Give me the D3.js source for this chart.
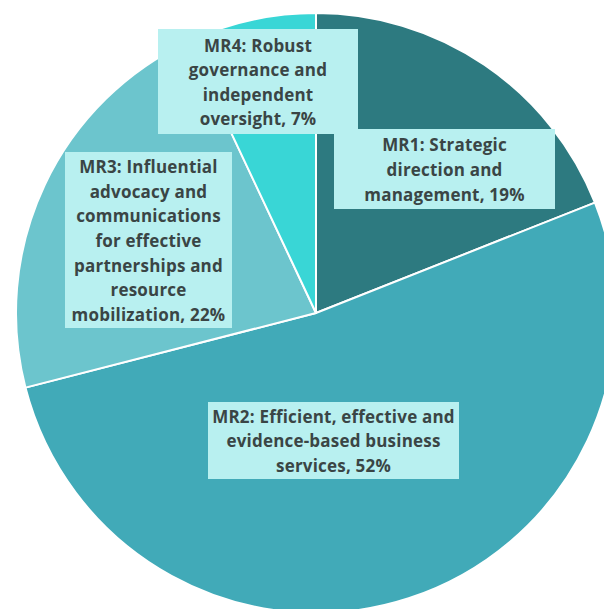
<!DOCTYPE html>
<html>
<head>
<meta charset="utf-8">
<script src="https://cdn.jsdelivr.net/npm/d3@7"></script>
<style>
  html, body { margin: 0; padding: 0; background: #ffffff; }
  svg { display: block; }
</style>
</head>
<body>
<svg id="chart" width="604" height="609"></svg>
<script>
// Budget share by management result
const categories = ["MR1", "MR2", "MR3", "MR4"];
const shares = [19, 52, 22, 7];
const labelLines = [
  ["MR1: Strategic", "direction and", "management, 19%"],
  ["MR2: Efficient, effective and", "evidence-based business", "services, 52%"],
  ["MR3: Influential", "advocacy and", "communications", "for effective", "partnerships and", "resource", "mobilization, 22%"],
  ["MR4: Robust", "governance and", "independent", "oversight, 7%"]
];

// Layout: slice colours and label box placement
const sliceColors = ["#2d7a80", "#41aab8", "#6cc5cd", "#39d6d6"];
const labelBoxes = [
  { x: 334, y: 129, w: 221, h: 80 },
  { x: 208, y: 402, w: 251, h: 77 },
  { x: 65,  y: 152, w: 167, h: 176 },
  { x: 158, y: 29,  w: 200, h: 105 }
];
const cx = 316, cy = 313, radius = 300, lineHeight = 24.6;

const svg = d3.select("#chart");
const data = categories.map((c, i) => ({ cat: c, value: shares[i], lines: labelLines[i], box: labelBoxes[i] }));

const pie = d3.pie().value(d => d.value).sort(null);
const arc = d3.arc().innerRadius(0).outerRadius(radius);
const color = d3.scaleOrdinal().domain(categories).range(sliceColors);

const g = svg.append("g").attr("transform", `translate(${cx},${cy})`);
g.selectAll("path.slice")
  .data(pie(data))
  .join("path")
  .attr("class", "slice")
  .attr("d", arc)
  .attr("fill", d => color(d.data.cat))
  .attr("stroke", "#ffffff")
  .attr("stroke-width", 2)
  .attr("stroke-linejoin", "round");

const labels = svg.selectAll("g.label")
  .data(data)
  .join("g")
  .attr("class", "label");

labels.append("rect")
  .attr("x", d => d.box.x)
  .attr("y", d => d.box.y)
  .attr("width", d => d.box.w)
  .attr("height", d => d.box.h)
  .attr("fill", "#b8f0f0");

labels.each(function(d) {
  const n = d.lines.length;
  const midX = d.box.x + d.box.w / 2;
  const midY = d.box.y + d.box.h / 2;
  const t = d3.select(this).append("text")
    .attr("text-anchor", "middle")
    .attr("font-family", "'Open Sans', sans-serif")
    .attr("font-weight", 700)
    .attr("font-size", 17)
    .attr("letter-spacing", "0.2px")
    .attr("fill", "#3a4545");
  d.lines.forEach((line, i) => {
    t.append("tspan")
      .attr("x", midX)
      .attr("y", midY + (i - (n - 1) / 2) * lineHeight + 1)
      .attr("dy", "0.35em")
      .text(line);
  });
});
</script>
</body>
</html>
